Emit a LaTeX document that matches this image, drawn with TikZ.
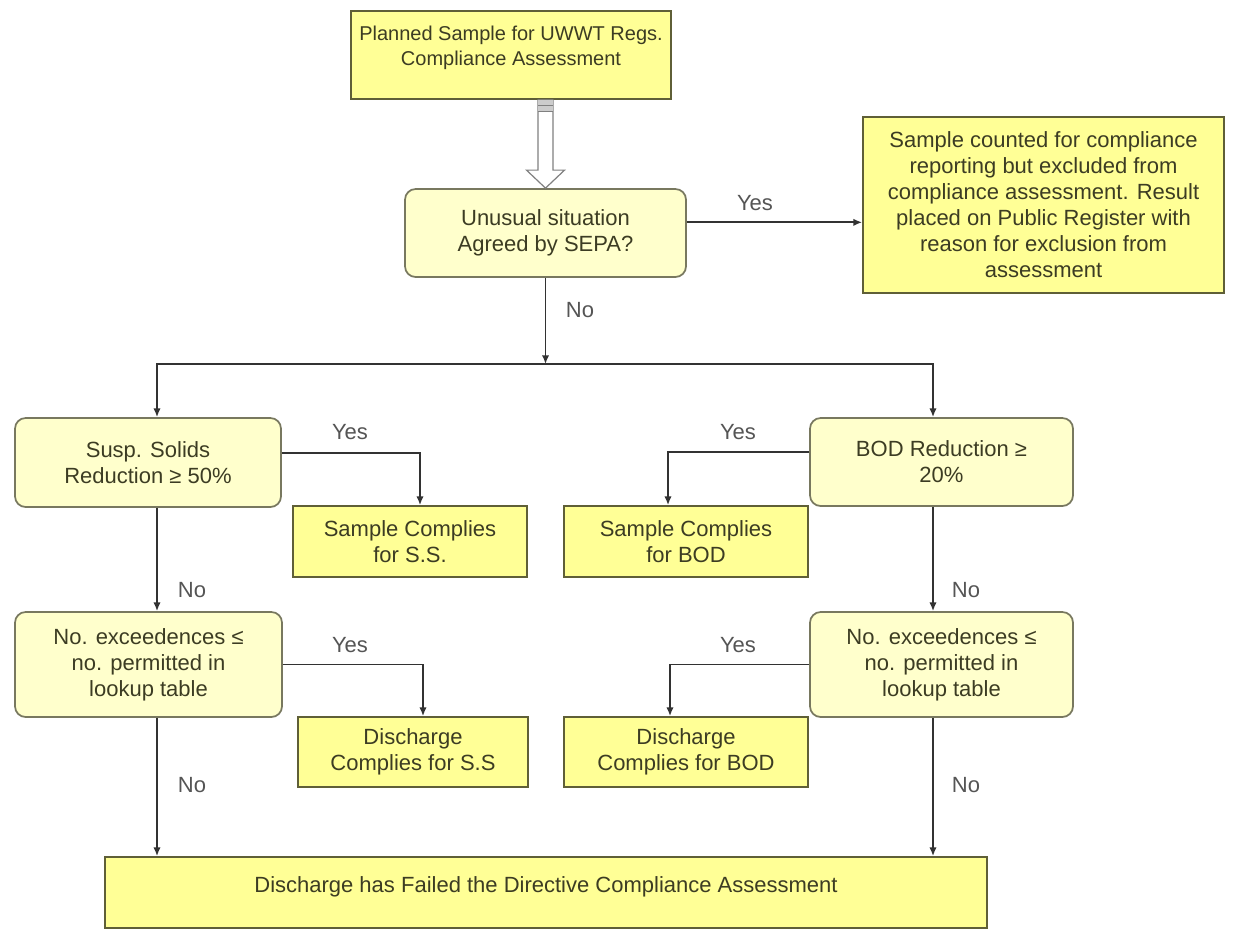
\documentclass[tikz,border=0pt]{standalone}
\usepackage{fontspec}
\setmainfont{Liberation Sans}
\usetikzlibrary{arrows.meta}
\definecolor{decfill}{RGB}{255,255,204}
\definecolor{decdraw}{RGB}{120,120,95}
\definecolor{resfill}{RGB}{255,255,150}
\definecolor{resdraw}{RGB}{95,95,55}
\definecolor{txt}{RGB}{60,60,35}
\definecolor{wire}{RGB}{50,50,50}
\definecolor{lblc}{RGB}{85,85,85}

\begin{document}
\begin{tikzpicture}[x=0.75pt,y=-0.75pt,
  base/.style={font=\fontsize{16.5}{19.5}\selectfont, text=txt, align=center,
               inner sep=0pt, line width=1.3pt},
  decision/.style={base, rectangle, rounded corners=8pt, fill=decfill, draw=decdraw},
  result/.style={base, rectangle, fill=resfill, draw=resdraw},
  flow/.style={draw=wire, line width=1.35pt, -{Latex[length=6.5pt,width=5.5pt]}},
  lbl/.style={font=\fontsize{16.5}{19.5}\selectfont, text=lblc, inner sep=1pt},
]
\useasboundingbox (0,0) rectangle (1238,929);
\fill[white] (0,0) rectangle (1238,929);

% column lines for the two branches
\coordinate (lcol) at (157,0);
\coordinate (rcol) at (933,0);

% boxes
\node[result, minimum width=240pt, minimum height=66pt, text depth=14pt,
      font=\fontsize{15}{19}\selectfont] (plan) at (511,55)
  {Planned Sample for UWWT Regs.\\Compliance Assessment};
\node[decision, minimum width=210.75pt, minimum height=66pt] (unusual) at (545.5,233)
  {Unusual situation\\Agreed by SEPA?};
\node[result, minimum width=270.75pt, minimum height=132pt] (excl) at (1043.5,205)
  {Sample counted for compliance\\reporting but excluded from\\compliance assessment. Result\\placed on Public Register with\\reason for exclusion from\\assessment};

\node[decision, minimum width=199.5pt, minimum height=66.75pt] (ss) at (148,462.5)
  {Susp. Solids\\Reduction ≥ 50\%};
\node[decision, minimum width=197.25pt, minimum height=66pt] (bod) at (941.5,462)
  {BOD Reduction ≥\\20\%};
\node[result, minimum width=175.5pt, minimum height=53.25pt] (scss) at (410,541.5)
  {Sample Complies\\for S.S.};
\node[result, minimum width=183pt, minimum height=53.25pt] (scbod) at (686,541.5)
  {Sample Complies\\for BOD};

\node[decision, minimum width=200.25pt, minimum height=78.75pt] (exss) at (148.5,664.5)
  {No. exceedences ≤\\no. permitted in\\lookup table};
\node[decision, minimum width=197.25pt, minimum height=78.75pt] (exbod) at (941.5,664.5)
  {No. exceedences ≤\\no. permitted in\\lookup table};
\node[result, minimum width=172.5pt, minimum height=52.5pt] (dcss) at (413,752)
  {Discharge\\Complies for S.S};
\node[result, minimum width=183pt, minimum height=52.5pt] (dcbod) at (686,752)
  {Discharge\\Complies for BOD};

\node[result, minimum width=661.5pt, minimum height=53.25pt, text depth=12pt] (fail) at (546,892.5)
  {Discharge has Failed the Directive Compliance Assessment};

% hollow block arrow from the planned sample to the first decision
\coordinate (bt) at (plan.south -| unusual.north);
\coordinate (bb) at (unusual.north);
\draw[fill=white, draw=gray, line width=0.9pt]
  ([xshift=-5.6pt]bt) -- ([xshift=-5.6pt,yshift=13.5pt]bb)
  -- ([xshift=-14.25pt,yshift=13.5pt]bb) -- (bb)
  -- ([xshift=14.25pt,yshift=13.5pt]bb) -- ([xshift=5.6pt,yshift=13.5pt]bb)
  -- ([xshift=5.6pt]bt) -- cycle;
\fill[gray!40] ([xshift=-5.6pt]bt) rectangle ([xshift=5.6pt,yshift=-9pt]bt);
\draw[gray, line width=0.7pt] ([xshift=-5.6pt,yshift=-4pt]bt) -- ([xshift=5.6pt,yshift=-4pt]bt);
\draw[gray, line width=0.7pt] ([xshift=-5.6pt,yshift=-9pt]bt) -- ([xshift=5.6pt,yshift=-9pt]bt);

% connectors
\draw[flow] ([yshift=8pt]unusual.east) -- ([yshift=8pt]unusual.east -| excl.west);
\coordinate (split) at (545.5,364);
\draw[flow] (unusual.south) -- (split);
\draw[flow] (split) -| (ss.north -| lcol);
\draw[flow] (split) -| (bod.north -| rcol);

\draw[flow] ([yshift=7pt]ss.east) -| ([xshift=7.5pt]scss.north);
\draw[flow] ([yshift=7.5pt]bod.west) -| ([xshift=-13.5pt]scbod.north);
\draw[flow] (ss.south -| lcol) -- (exss.north -| lcol);
\draw[flow] (bod.south -| rcol) -- (exbod.north -| rcol);

\draw[flow] (exss.east) -| ([xshift=7.5pt]dcss.north);
\draw[flow] (exbod.west) -| ([xshift=-12pt]dcbod.north);
\draw[flow] (exss.south -| lcol) -- (fail.north -| lcol);
\draw[flow] (exbod.south -| rcol) -- (fail.north -| rcol);

% branch labels
\node[lbl] (y0) at (755,203) {Yes};
\node[lbl] (n0) at (580,310) {No};
\node[lbl] (y1) at (350,432) {Yes};
\node[lbl] (y2) at (738,432) {Yes};
\node[lbl] (n1) at (192,590) {No};
\node[lbl] (n2) at (966,590) {No};
\node[lbl] (y3) at (350,645) {Yes};
\node[lbl] (y4) at (738,645) {Yes};
\node[lbl] (n3) at (192,785) {No};
\node[lbl] (n4) at (966,785) {No};
\end{tikzpicture}
\end{document}
